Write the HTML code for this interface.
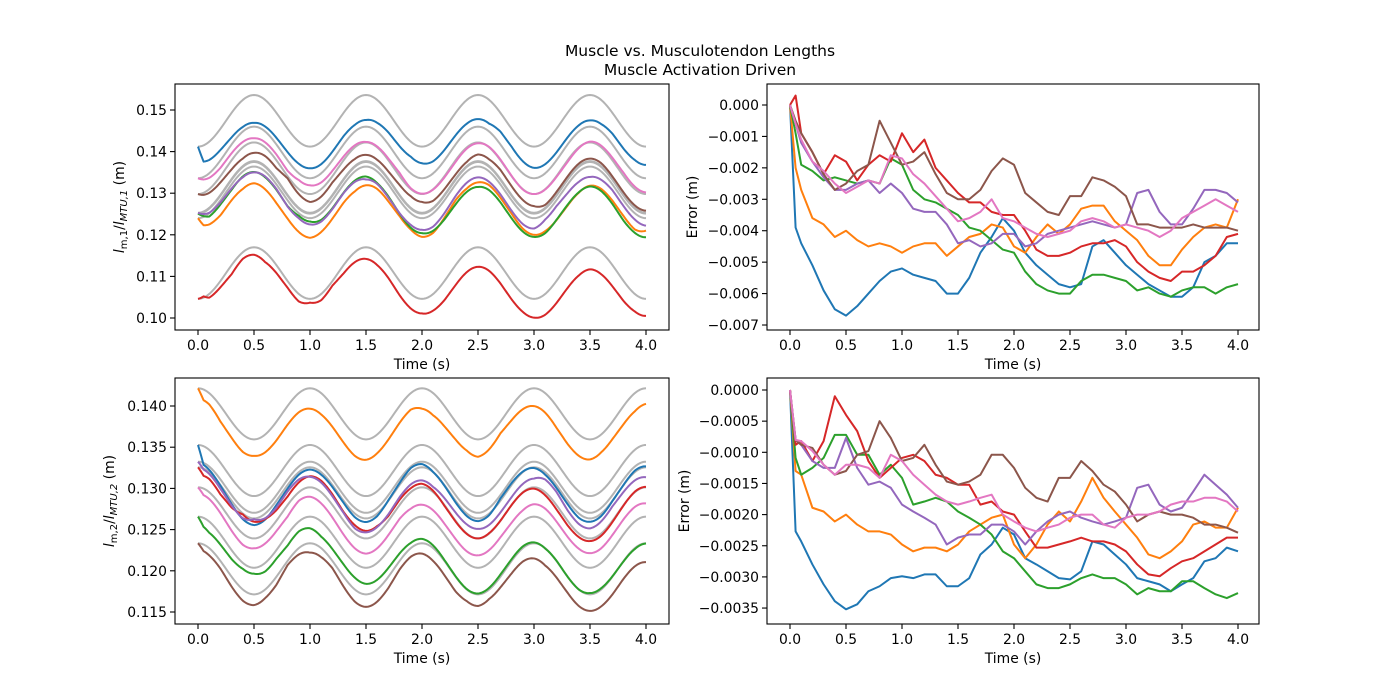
<!DOCTYPE html>
<html><head><meta charset="utf-8"><style>
body{margin:0;background:#fff}
svg{display:block;font-family:"DejaVu Sans","Liberation Sans",sans-serif}
</style></head><body>
<svg id="fig" width="1400" height="700" viewBox="0 0 1400 700">
<rect width="1400" height="700" fill="#fff"/>
<text x="700" y="56" text-anchor="middle" font-size="15.5">Muscle vs. Musculotendon Lengths</text>
<text x="700" y="75" text-anchor="middle" font-size="15.5">Muscle Activation Driven</text>
</svg>
<script>
// shared time samples (s)
const times = [0,0.05,0.1,0.2,0.3,0.4,0.5,0.6,0.7,0.8,0.9,1.0,1.1,1.2,1.3,1.4,1.5,1.6,1.7,1.8,1.9,2.0,2.1,2.2,2.3,2.4,2.5,2.6,2.7,2.8,2.9,3.0,3.1,3.2,3.3,3.4,3.5,3.6,3.7,3.8,3.9,4.0];
const colors = ["#1f77b4","#ff7f0e","#2ca02c","#d62728","#9467bd","#8c564b","#e377c2"];
const seriesNames = ["blue","orange","green","red","purple","brown","pink"];
// muscle 1 errors (units of 1e-3 m)
const err1Blue   = [0,-3.9,-4.4,-5.1,-5.9,-6.5,-6.7,-6.4,-6.0,-5.6,-5.3,-5.2,-5.4,-5.5,-5.6,-6.0,-6.0,-5.5,-4.7,-4.2,-3.6,-4.0,-4.7,-5.1,-5.4,-5.7,-5.8,-5.7,-4.5,-4.3,-4.7,-5.1,-5.4,-5.7,-5.9,-6.1,-6.1,-5.8,-5.0,-4.8,-4.4,-4.4];
const err1Orange = [0,-2.0,-2.7,-3.6,-3.8,-4.2,-4.0,-4.3,-4.5,-4.4,-4.5,-4.7,-4.5,-4.4,-4.4,-4.8,-4.5,-4.2,-4.1,-3.8,-3.9,-4.5,-4.7,-4.2,-3.8,-4.1,-3.8,-3.3,-3.2,-3.2,-3.7,-4.0,-4.3,-4.8,-5.1,-5.1,-4.6,-4.2,-3.9,-3.8,-3.9,-3.0];
const err1Green  = [0,-0.9,-1.9,-2.1,-2.4,-2.3,-2.4,-2.5,-2.4,-2.5,-1.7,-1.9,-2.7,-3.0,-3.1,-3.3,-3.5,-3.9,-4.0,-4.3,-4.6,-4.7,-5.3,-5.7,-5.9,-6.0,-6.0,-5.6,-5.4,-5.4,-5.5,-5.6,-5.9,-5.8,-6.0,-6.1,-5.9,-5.8,-5.8,-6.0,-5.8,-5.7];
const err1Red    = [0,0.3,-0.9,-1.5,-2.2,-1.6,-1.8,-2.4,-1.9,-1.6,-1.8,-0.9,-1.5,-1.1,-2.0,-2.4,-2.8,-3.1,-3.1,-3.4,-3.5,-3.5,-4.0,-4.6,-4.8,-4.8,-4.7,-4.5,-4.4,-4.4,-4.3,-4.5,-5.0,-5.3,-5.5,-5.6,-5.3,-5.3,-5.1,-4.8,-4.2,-4.1];
const err1Purple = [0,-0.6,-1.2,-1.8,-2.3,-2.7,-2.7,-2.5,-2.4,-2.8,-2.5,-2.8,-3.3,-3.4,-3.4,-3.8,-4.4,-4.3,-4.5,-4.4,-4.1,-4.1,-4.5,-4.4,-4.1,-4.0,-3.9,-3.8,-3.7,-3.8,-3.9,-3.8,-2.8,-2.7,-3.4,-3.8,-3.8,-3.3,-2.7,-2.7,-2.8,-3.1];
const err1Brown  = [0,-0.5,-0.9,-1.5,-2.2,-2.7,-2.5,-2.1,-1.9,-0.5,-1.2,-1.9,-1.8,-1.5,-2.2,-2.8,-3.0,-3.0,-2.7,-2.1,-1.7,-1.9,-2.8,-3.1,-3.4,-3.5,-2.9,-2.9,-2.3,-2.4,-2.6,-2.9,-3.8,-3.8,-3.9,-3.9,-3.9,-3.8,-3.9,-3.9,-3.9,-4.0];
const err1Pink   = [0,-0.6,-1.1,-1.8,-2.1,-2.5,-2.8,-2.6,-2.4,-2.5,-1.6,-1.7,-2.2,-2.5,-2.9,-3.3,-3.7,-3.6,-3.4,-3.0,-3.6,-3.7,-3.9,-4.1,-4.2,-4.1,-4.0,-3.7,-3.6,-3.7,-3.9,-3.8,-3.9,-4.0,-4.2,-4.0,-3.6,-3.4,-3.2,-3.0,-3.2,-3.4];
// muscle 2 errors (units of 1e-3 m)
const err2Blue   = [0,-2.27,-2.43,-2.8,-3.12,-3.39,-3.52,-3.44,-3.23,-3.15,-3.02,-2.99,-3.02,-2.96,-2.96,-3.15,-3.15,-3.02,-2.64,-2.48,-2.21,-2.32,-2.7,-2.8,-2.91,-3.02,-3.04,-2.91,-2.43,-2.48,-2.64,-2.8,-3.02,-3.07,-3.12,-3.23,-3.12,-3.02,-2.75,-2.7,-2.53,-2.59];
const err2Orange = [0,-1.3,-1.36,-1.89,-1.95,-2.11,-2.0,-2.16,-2.27,-2.27,-2.32,-2.48,-2.59,-2.53,-2.53,-2.59,-2.48,-2.27,-2.16,-2.05,-2.0,-2.48,-2.7,-2.48,-2.16,-1.95,-2.11,-1.79,-1.41,-1.73,-1.95,-2.16,-2.37,-2.64,-2.7,-2.59,-2.43,-2.16,-2.11,-2.21,-2.21,-1.89];
const err2Green  = [0,-1.09,-1.36,-1.25,-1.09,-0.72,-0.72,-1.04,-1.04,-1.36,-1.2,-1.41,-1.84,-1.79,-1.73,-1.79,-1.95,-2.05,-2.16,-2.32,-2.59,-2.7,-2.91,-3.12,-3.18,-3.18,-3.12,-3.02,-2.96,-3.02,-3.02,-3.12,-3.28,-3.18,-3.23,-3.23,-3.07,-3.07,-3.18,-3.28,-3.34,-3.26];
const err2Red    = [0,-0.88,-0.82,-1.14,-0.82,-0.1,-0.4,-0.66,-1.14,-1.41,-1.25,-1.09,-1.04,-1.14,-1.36,-1.41,-1.52,-1.52,-1.84,-1.79,-1.95,-2.0,-2.27,-2.53,-2.53,-2.48,-2.43,-2.37,-2.43,-2.43,-2.48,-2.59,-2.8,-2.96,-2.99,-2.86,-2.75,-2.7,-2.59,-2.48,-2.37,-2.37];
const err2Purple = [0,-0.8,-0.88,-1.14,-1.25,-1.25,-0.77,-1.25,-1.52,-1.47,-1.57,-1.84,-1.95,-2.05,-2.16,-2.48,-2.37,-2.32,-2.32,-2.16,-2.16,-2.27,-2.48,-2.27,-2.11,-2.0,-1.95,-2.05,-2.11,-2.16,-2.11,-2.05,-1.57,-1.52,-1.84,-1.95,-1.89,-1.63,-1.36,-1.52,-1.68,-1.89];
const err2Brown  = [0,-0.8,-0.88,-0.93,-1.2,-1.36,-1.3,-1.04,-0.98,-0.5,-0.77,-1.14,-1.09,-0.88,-1.2,-1.47,-1.52,-1.47,-1.36,-1.04,-1.04,-1.25,-1.57,-1.73,-1.79,-1.41,-1.41,-1.14,-1.3,-1.52,-1.63,-1.84,-2.11,-2.0,-1.95,-2.0,-2.0,-2.05,-2.16,-2.16,-2.21,-2.29];
const err2Pink   = [0,-0.8,-0.82,-0.98,-1.2,-1.36,-1.2,-1.2,-1.25,-1.41,-1.04,-1.14,-1.36,-1.52,-1.68,-1.79,-1.84,-1.79,-1.73,-1.68,-2.0,-2.11,-2.21,-2.27,-2.21,-2.16,-2.05,-2.0,-2.0,-2.16,-2.21,-2.05,-2.0,-2.0,-1.95,-1.84,-1.79,-1.79,-1.73,-1.73,-1.79,-1.95];
// musculotendon lengths at t=0 (m) and oscillation amplitude (m)
const mtu1Start = [0.1412,0.1240,0.1251,0.1046,0.1253,0.1298,0.1336];
const mtu1Amp = 0.0062;
const mtu2Start = [0.13527,0.14215,0.12657,0.13256,0.13324,0.12334,0.13013];
const mtu2Amp = 0.0031;
// tick labels
const xTicks = [0,0.5,1,1.5,2,2.5,3,3.5,4];
const yTicksTL = [0.10,0.11,0.12,0.13,0.14,0.15];
const yTicksTR = [0,-0.001,-0.002,-0.003,-0.004,-0.005,-0.006,-0.007];
const yTicksBL = [0.115,0.120,0.125,0.130,0.135,0.140];
const yTicksBR = [0,-0.0005,-0.001,-0.0015,-0.002,-0.0025,-0.003,-0.0035];

const errs1 = [err1Blue,err1Orange,err1Green,err1Red,err1Purple,err1Brown,err1Pink];
const errs2 = [err2Blue,err2Orange,err2Green,err2Red,err2Purple,err2Brown,err2Pink];

const NS = "http://www.w3.org/2000/svg";
const svg = document.getElementById("fig");
function mk(tag, attrs, parent){
  const e = document.createElementNS(NS, tag);
  for (const k in attrs) e.setAttribute(k, attrs[k]);
  (parent||svg).appendChild(e);
  return e;
}
function fmt(v, d){ const s = Math.abs(v).toFixed(d); return (v < -1e-12 ? "\u2212" : "") + s; }
function interp(arr, t){
  for (let i=0;i<times.length-1;i++){
    if (t<=times[i+1]){ const f=(t-times[i])/(times[i+1]-times[i]); return arr[i]+(arr[i+1]-arr[i])*f; }
  }
  return arr[arr.length-1];
}
function mtu(start, amp, sign, t){ return start + sign*amp*(1-Math.cos(2*Math.PI*t)); }

function panel(cfg){
  const g = mk("g", {});
  
  
  const X = t => cfg.xz + 112*t;
  const Y = v => cfg.yRef + (cfg.vRef - v)*cfg.ys;
  const clip = mk("clipPath", {id:cfg.name+"-clip"}, g);
  mk("rect", {x:cfg.x0, y:cfg.y0, width:cfg.x1-cfg.x0, height:cfg.y1-cfg.y0}, clip);
  const lines = mk("g", {"clip-path":"url(#"+cfg.name+"-clip)"}, g);
  cfg.series.forEach(s=>{
    let d="";
    s.pts.forEach((p,i)=>{ d += (i?"L":"M")+X(p[0]).toFixed(2)+","+Y(p[1]).toFixed(2); });
    const p = mk("path", {d:d, fill:"none", stroke:s.color, "stroke-width":2, "stroke-linejoin":"round"}, lines);
    
    
  });
  const fr = mk("rect", {x:cfg.x0, y:cfg.y0, width:cfg.x1-cfg.x0, height:cfg.y1-cfg.y0, fill:"none", stroke:"#000", "stroke-width":1.1}, g);
  
  
  xTicks.forEach(t=>{
    const x = X(t);
    mk("line", {x1:x, x2:x, y1:cfg.y1, y2:cfg.y1+5, stroke:"#000", "stroke-width":1.1}, g);
    const tx = mk("text", {x:x, y:cfg.y1+20, "text-anchor":"middle", "font-size":13.9}, g);
    tx.textContent = t.toFixed(1);
    
    
  });
  cfg.yTicks.forEach(v=>{
    const y = Y(v);
    mk("line", {x1:cfg.x0-5, x2:cfg.x0, y1:y, y2:y, stroke:"#000", "stroke-width":1.1}, g);
    const tx = mk("text", {x:cfg.x0-8, y:y+5, "text-anchor":"end", "font-size":13.9}, g);
    tx.textContent = fmt(v, cfg.dec);
    
    
  });
  const xl = mk("text", {x:(cfg.x0+cfg.x1)/2, y:cfg.y1+39, "text-anchor":"middle", "font-size":13.9}, g);
  xl.textContent = "Time (s)";
  
  
  const cy = (cfg.y0+cfg.y1)/2;
  const yl = mk("text", {x:cfg.ylx, y:cy, "text-anchor":"middle", "font-size":13.9, transform:"rotate(-90 "+cfg.ylx+" "+cy+")"}, g);
  yl.innerHTML = cfg.ylabel;
  
  
}

function errSeries(errs){
  return errs.map((e,i)=>({name:"error-"+seriesNames[i], color:colors[i], pts:times.map((t,k)=>[t, e[k]*0.001])}));
}
function lenSeries(errs, starts, amp, sign, tag){
  const fine = []; for (let k=0;k<=400;k++) fine.push(k/100);
  const grays = starts.map((s,i)=>({name:tag+"-mtu-"+seriesNames[i], color:"#b3b3b3", pts:fine.map(t=>[t, mtu(s,amp,sign,t)])}));
  const cols = starts.map((s,i)=>({name:tag+"-muscle-"+seriesNames[i], color:colors[i], pts:fine.map(t=>[t, mtu(s,amp,sign,t)+interp(errs[i],t)*0.001])}));
  return grays.concat(cols);
}

panel({name:"muscle1-length-panel", x0:175,x1:669,y0:84,y1:330, xz:198, yRef:110, vRef:0.15, ys:4160, yTicks:yTicksTL, dec:2, ylx:124,
  ylabel:'<tspan font-style="italic">l</tspan><tspan font-size="10" dy="3">m,1</tspan><tspan dy="-3">/</tspan><tspan font-style="italic">l</tspan><tspan font-size="10" dy="3" font-style="italic">MTU,1</tspan><tspan dy="-3"> (m)</tspan>',
  series:lenSeries(errs1, mtu1Start, mtu1Amp, 1, "m1")});
panel({name:"muscle1-error-panel", x0:767,x1:1259,y0:84,y1:330, xz:790, yRef:105, vRef:0, ys:31430, yTicks:yTicksTR, dec:3, ylx:697,
  ylabel:'Error (m)', series:errSeries(errs1)});
panel({name:"muscle2-length-panel", x0:175,x1:669,y0:378,y1:624, xz:198, yRef:406, vRef:0.140, ys:8240, yTicks:yTicksBL, dec:3, ylx:114,
  ylabel:'<tspan font-style="italic">l</tspan><tspan font-size="10" dy="3">m,2</tspan><tspan dy="-3">/</tspan><tspan font-style="italic">l</tspan><tspan font-size="10" dy="3" font-style="italic">MTU,2</tspan><tspan dy="-3"> (m)</tspan>',
  series:lenSeries(errs2, mtu2Start, mtu2Amp, -1, "m2")});
panel({name:"muscle2-error-panel", x0:767,x1:1259,y0:378,y1:624, xz:790, yRef:390, vRef:0, ys:62300, yTicks:yTicksBR, dec:4, ylx:689,
  ylabel:'Error (m)', series:errSeries(errs2)});
</script>
</body></html>
